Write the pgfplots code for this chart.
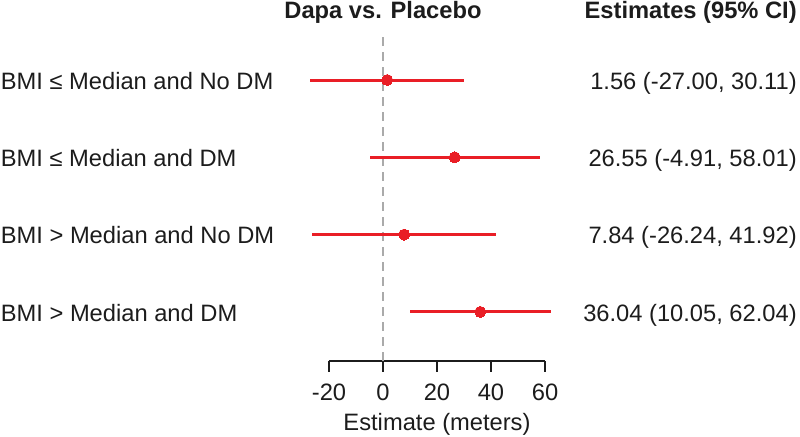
\documentclass[border=0pt]{standalone}
\usepackage{pgfplots}
\pgfplotsset{compat=1.18}
\usepackage{pgfplotstable}
\usepackage{fontspec}
\setmainfont{Liberation Sans}
\definecolor{fred}{RGB}{233,30,38}
\definecolor{ftxt}{RGB}{28,28,28}
\definecolor{fgrey}{RGB}{170,170,170}
\pgfplotstableread{
est y lo hi
1.56 4 -27.00 30.11
26.55 3 -4.91 58.01
7.84 2 -26.24 41.92
36.04 1 10.05 62.04
}\forest
\begin{document}
\fontsize{23.7bp}{28bp}\selectfont
\begin{tikzpicture}
\begin{axis}[
  x=2.7bp, y=77.3bp,
  xmin=-20, xmax=60, ymin=0.365, ymax=4.556,
  axis x line=bottom, axis y line=none,
  axis line style={draw=ftxt, line width=1.3bp, -},
  x axis line style={-},
  clip=false,
  xtick={-20,0,20,40,60},
  tick align=outside,
  major tick length=11bp,
  tick style={draw=ftxt, line width=1.3bp},
  /pgf/number format/assume math mode=true,
  ticklabel style={font=\fontsize{23.7bp}{28bp}\selectfont, text=ftxt},
  xticklabel style={anchor=base, yshift=-29bp},
]
\addplot[fgrey, line width=1.3bp, dash pattern=on 9bp off 6bp] coordinates {(0,0.365) (0,4.556)};
\addplot[fred, only marks, mark=*, mark size=5.5bp,
  mark options={fill=fred, draw=fred, line width=0pt},
  error bars/.cd, x dir=both, x explicit, error mark=none,
  error bar style={fred, line width=3bp}]
  table[x=est, y=y,
    x error plus expr=\thisrow{hi}-\thisrow{est},
    x error minus expr=\thisrow{est}-\thisrow{lo}] {\forest};
\addplot[fred, only marks, mark=*, mark size=5.5bp,
  mark options={fill=fred, draw=fred, line width=0pt}]
  table[x=est, y=y] {\forest};
% row labels
\node[anchor=base west, inner sep=0pt, text=ftxt] at (axis cs:-141.6,3.88) {BMI ≤ Median and No DM};
\node[anchor=base west, inner sep=0pt, text=ftxt] at (axis cs:-141.6,2.88) {BMI ≤ Median and DM};
\node[anchor=base west, inner sep=0pt, text=ftxt] at (axis cs:-141.6,1.88) {BMI > Median and No DM};
\node[anchor=base west, inner sep=0pt, text=ftxt] at (axis cs:-141.6,0.88) {BMI > Median and DM};
% estimates
\node[anchor=base east, inner sep=0pt, text=ftxt] at (axis cs:153.3,3.88) {1.56 (-27.00, 30.11)};
\node[anchor=base east, inner sep=0pt, text=ftxt] at (axis cs:153.3,2.88) {26.55 (-4.91, 58.01)};
\node[anchor=base east, inner sep=0pt, text=ftxt] at (axis cs:153.3,1.88) {7.84 (-26.24, 41.92)};
\node[anchor=base east, inner sep=0pt, text=ftxt] at (axis cs:153.3,0.88) {36.04 (10.05, 62.04)};
% titles
\node[anchor=base, inner sep=0pt, text=ftxt, font=\bfseries] at (axis cs:0,4.80) {Dapa vs. Placebo};
\node[anchor=base east, inner sep=0pt, text=ftxt, font=\bfseries] at (axis cs:153.3,4.80) {Estimates (95\% CI)};
% x label
\node[anchor=base, inner sep=0pt, text=ftxt] at (axis cs:20,-0.528) {Estimate (meters)};
\coordinate (bl) at (axis cs:-141.85,-0.618);
\coordinate (tr) at (axis cs:154.44,5.035);
\end{axis}
\pgfresetboundingbox
\useasboundingbox (bl) rectangle (tr);
\end{tikzpicture}
\end{document}
